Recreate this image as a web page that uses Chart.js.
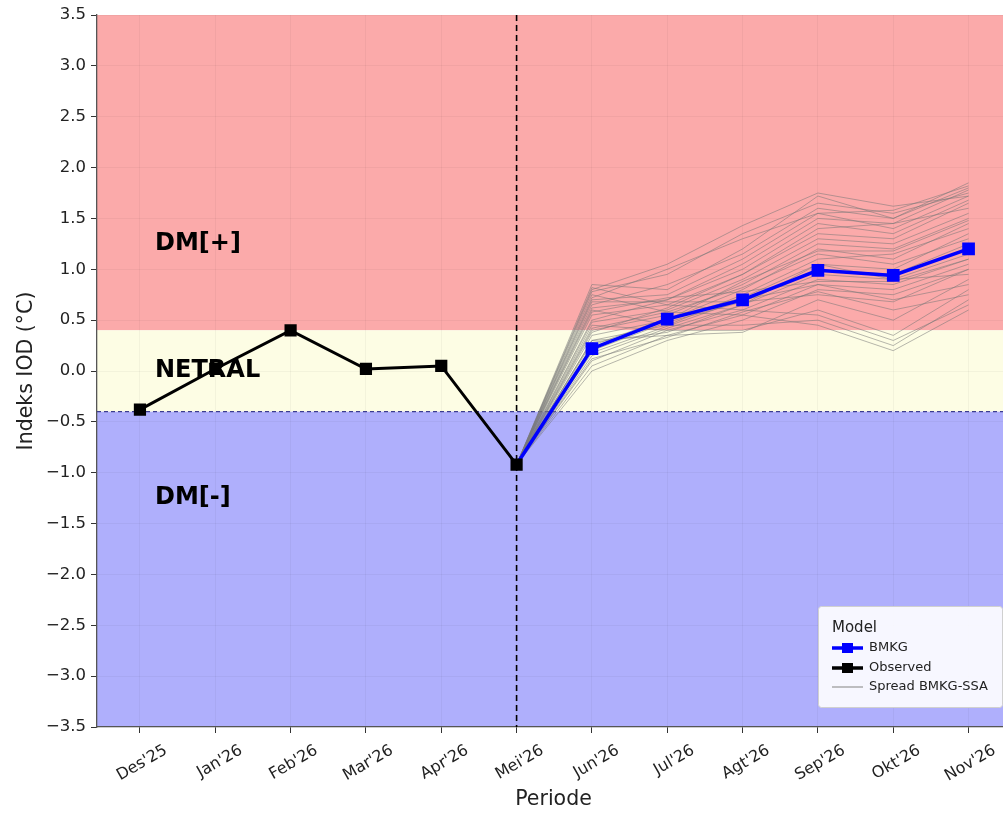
<!DOCTYPE html>
<html>
<head>
<meta charset="utf-8">
<script src="https://cdn.jsdelivr.net/npm/chart.js@4.4.1/dist/chart.umd.min.js"></script>
<style>
  html, body { margin: 0; padding: 0; background: #ffffff; overflow: hidden; width: 1003px; height: 813px; }
  #wrap { position: absolute; left: 0; top: 0; width: 1020px; height: 813px; }
</style>
</head>
<body>
<div id="wrap"><canvas id="c" width="1020" height="813"></canvas></div>
<script>
// ---------- data ----------
const categories = ["Des'25","Jan'26","Feb'26","Mar'26","Apr'26","Mei'26","Jun'26","Jul'26","Agt'26","Sep'26","Okt'26","Nov'26"];
const observedValues = [-0.38, 0.02, 0.40, 0.02, 0.05, -0.92];          // Des'25 .. Mei'26
const bmkgStartIndex = 5;                                                 // starts at Mei'26
const bmkgValues = [-0.92, 0.22, 0.51, 0.70, 0.99, 0.94, 1.20];          // Mei'26 .. Nov'26
const spreadMembers = [                                                   // Mei'26 .. Nov'26
  [-0.92, 0.85, 0.80, 1.20, 1.72, 1.50, 1.80],
  [-0.92, 0.78, 0.95, 1.35, 1.65, 1.55, 1.75],
  [-0.92, 0.80, 1.05, 1.43, 1.75, 1.62, 1.72],
  [-0.92, 0.72, 1.00, 1.30, 1.55, 1.58, 1.82],
  [-0.92, 0.70, 0.75, 1.10, 1.55, 1.40, 1.72],
  [-0.92, 0.62, 0.70, 1.00, 1.45, 1.35, 1.68],
  [-0.92, 0.55, 0.65, 0.95, 1.40, 1.45, 1.60],
  [-0.92, 0.48, 0.60, 0.90, 1.30, 1.25, 1.55],
  [-0.92, 0.40, 0.55, 0.85, 1.25, 1.20, 1.50],
  [-0.92, 0.35, 0.50, 0.80, 1.20, 1.10, 1.45],
  [-0.92, 0.30, 0.45, 0.75, 1.10, 1.15, 1.40],
  [-0.92, 0.25, 0.52, 0.72, 1.05, 1.00, 1.35],
  [-0.92, 0.20, 0.48, 0.68, 1.00, 0.95, 1.25],
  [-0.92, 0.15, 0.42, 0.65, 0.95, 0.90, 1.15],
  [-0.92, 0.10, 0.40, 0.60, 0.90, 0.85, 1.10],
  [-0.92, 0.05, 0.35, 0.55, 0.85, 0.80, 1.05],
  [-0.92, 0.00, 0.30, 0.50, 0.80, 0.75, 1.00],
  [-0.92, 0.82, 0.65, 0.60, 0.55, 0.30, 0.65],
  [-0.92, 0.75, 0.58, 0.55, 0.45, 0.20, 0.60],
  [-0.92, 0.60, 0.45, 0.45, 0.50, 0.25, 0.70],
  [-0.92, 0.45, 0.40, 0.40, 0.60, 0.35, 0.80],
  [-0.92, 0.30, 0.35, 0.38, 0.70, 0.50, 0.90],
  [-0.92, 0.38, 0.62, 0.95, 1.35, 1.30, 1.65],
  [-0.92, 0.50, 0.70, 1.05, 1.50, 1.45, 1.78],
  [-0.92, 0.65, 0.85, 1.15, 1.60, 1.50, 1.85],
  [-0.92, 0.28, 0.38, 0.65, 1.05, 0.90, 0.95],
  [-0.92, 0.18, 0.44, 0.70, 0.85, 0.70, 0.85],
  [-0.92, 0.12, 0.33, 0.58, 0.78, 0.60, 0.75],
  [-0.92, 0.58, 0.72, 0.78, 0.88, 0.88, 1.10],
  [-0.92, 0.42, 0.58, 0.82, 1.15, 1.05, 1.30],
  [-0.92, 0.22, 0.50, 0.88, 1.18, 1.18, 1.48],
  [-0.92, 0.68, 0.68, 0.68, 0.75, 0.68, 1.00]
];
const yTickValues = [-3.5,-3.0,-2.5,-2.0,-1.5,-1.0,-0.5,0.0,0.5,1.0,1.5,2.0,2.5,3.0,3.5];
const zoneBounds = { low: -0.4, high: 0.4, min: -3.5, max: 3.5 };
const zoneLabels = [
  { text: 'DM[+]', x: 0.2, y: 1.25 },
  { text: 'NETRAL', x: 0.2, y: 0.0 },
  { text: 'DM[-]', x: 0.2, y: -1.25 }
];
const forecastStartIndex = 5;
const legendTitle = 'Model';
const seriesNames = { bmkg: 'BMKG', observed: 'Observed', spread: 'Spread BMKG-SSA' };

// ---------- styles ----------
const FONT = "'DejaVu Sans', sans-serif";
const colRed = '#fbaaaa';
const colYellow = '#fdfde4';
const colBlue = '#afaffc';

const toPts = (vals, start) => vals.map((v, i) => ({ x: start + i, y: v }));

const datasets = [];
datasets.push({
  label: seriesNames.observed,
  data: toPts(observedValues, 0),
  borderColor: '#000000', backgroundColor: '#000000',
  borderWidth: 3, pointStyle: 'rect', pointRadius: 6.5, pointHoverRadius: 6.5,
  order: 0
});
datasets.push({
  label: seriesNames.bmkg,
  data: toPts(bmkgValues, bmkgStartIndex),
  borderColor: '#0000ff', backgroundColor: '#0000ff',
  borderWidth: 3.5, pointStyle: 'rect', pointRadius: bmkgValues.map((v, i) => i === 0 ? 0 : 6.5), pointHoverRadius: 6.5,
  order: 1
});
spreadMembers.forEach((m, k) => {
  datasets.push({
    label: seriesNames.spread + ' ' + (k + 1),
    data: toPts(m, forecastStartIndex),
    borderColor: 'rgba(120,120,120,0.6)',
    borderWidth: 0.9, pointRadius: 0, pointHoverRadius: 0,
    order: 2
  });
});

const bgPlugin = {
  id: 'zones',
  beforeDraw(chart) {
    const { ctx, chartArea: a, scales: { y } } = chart;
    const yHi = y.getPixelForValue(zoneBounds.high);
    const yLo = y.getPixelForValue(zoneBounds.low);
    const yTop = y.getPixelForValue(zoneBounds.max);
    const yBot = y.getPixelForValue(zoneBounds.min);
    ctx.save();
    ctx.fillStyle = colRed; ctx.fillRect(a.left, yTop, a.right - a.left, yHi - yTop);
    ctx.fillStyle = colYellow; ctx.fillRect(a.left, yHi, a.right - a.left, yLo - yHi);
    ctx.fillStyle = colBlue; ctx.fillRect(a.left, yLo, a.right - a.left, yBot - yLo);
    ctx.restore();
  },
  beforeDatasetsDraw(chart) {
    const { ctx, chartArea: a, scales: { x, y } } = chart;
    ctx.save();
    ctx.strokeStyle = '#3c3c90'; ctx.lineWidth = 1.2; ctx.setLineDash([4, 3]);
    const yl = y.getPixelForValue(zoneBounds.low);
    ctx.beginPath(); ctx.moveTo(a.left, yl); ctx.lineTo(a.right, yl); ctx.stroke();
    ctx.strokeStyle = '#000000'; ctx.lineWidth = 1.6; ctx.setLineDash([6, 4]);
    const xv = x.getPixelForValue(forecastStartIndex);
    ctx.beginPath(); ctx.moveTo(xv, a.top); ctx.lineTo(xv, a.bottom); ctx.stroke();
    ctx.setLineDash([]);
    ctx.fillStyle = '#000000';
    ctx.font = "bold 24px " + FONT;
    ctx.textAlign = 'left'; ctx.textBaseline = 'middle';
    zoneLabels.forEach(l => ctx.fillText(l.text, x.getPixelForValue(l.x), y.getPixelForValue(l.y)));
    ctx.restore();
  },
  afterDraw(chart) {
    const { ctx } = chart;
    const bx = 818, by = 606, bw = 184, bh = 101;
    ctx.save();
    ctx.fillStyle = 'rgba(255,255,255,0.9)';
    ctx.strokeStyle = '#d0d0d0'; ctx.lineWidth = 1;
    ctx.beginPath();
    if (ctx.roundRect) ctx.roundRect(bx + 0.5, by + 0.5, bw, bh, 3); else ctx.rect(bx + 0.5, by + 0.5, bw, bh);
    ctx.fill(); ctx.stroke();
    ctx.fillStyle = '#222222';
    ctx.textBaseline = 'middle'; ctx.textAlign = 'left';
    ctx.font = "15px " + FONT;
    ctx.fillText(legendTitle, 832, 628);
    const entries = [
      { name: seriesNames.bmkg, color: '#0000ff', w: 3.5, marker: true, y: 648 },
      { name: seriesNames.observed, color: '#000000', w: 3.5, marker: true, y: 668 },
      { name: seriesNames.spread, color: 'rgba(150,150,150,0.8)', w: 1.5, marker: false, y: 687 }
    ];
    entries.forEach(e => {
      ctx.strokeStyle = e.color; ctx.lineWidth = e.w;
      ctx.beginPath(); ctx.moveTo(832, e.y); ctx.lineTo(863, e.y); ctx.stroke();
      if (e.marker) { ctx.fillStyle = e.color; ctx.fillRect(842, e.y - 5, 11, 10); }
      ctx.fillStyle = '#222222';
      ctx.font = "13px " + FONT;
      ctx.fillText(e.name, 869, e.y);
    });
    ctx.restore();
  }
};

const fmt = v => {
  const s = Math.abs(v).toFixed(1);
  return v < -1e-9 ? '\u2212' + s : s;
};

new Chart(document.getElementById('c'), {
  type: 'line',
  data: { datasets },
  options: {
    responsive: false,
    animation: false,
    devicePixelRatio: 1,
    layout: { padding: { top: 15, right: 7, left: 0, bottom: 0 } },
    plugins: { legend: { display: false }, tooltip: { enabled: false } },
    elements: { line: { tension: 0 } },
    scales: {
      x: {
        type: 'linear', min: -0.57, max: 11.55,
        afterBuildTicks: s => { s.ticks = categories.map((c, i) => ({ value: i })); },
        afterFit: s => { s.height = 86; },
        ticks: {
          autoSkip: false, minRotation: 30, maxRotation: 30,
          callback: v => categories[v],
          font: { family: FONT, size: 16 }, color: '#222222',
          labelOffset: 26, padding: 8
        },
        grid: { color: 'rgba(0,0,0,0.04)', tickColor: '#333333', tickLength: 6, lineWidth: 1 },
        border: { color: '#555555', width: 1.3 },
        title: { display: true, text: 'Periode', font: { family: FONT, size: 20.5 }, color: '#222222', padding: { top: 4, bottom: 1 } }
      },
      y: {
        min: -3.5, max: 3.5,
        afterBuildTicks: s => { s.ticks = yTickValues.map(v => ({ value: v })); },
        afterFit: s => { s.width = 97; },
        ticks: {
          callback: v => fmt(v),
          font: { family: FONT, size: 16.5 }, color: '#222222', padding: 5
        },
        grid: { color: 'rgba(0,0,0,0.04)', tickColor: '#333333', tickLength: 6, lineWidth: 1 },
        border: { color: '#555555', width: 1.3 },
        title: { display: true, text: 'Indeks IOD (°C)', font: { family: FONT, size: 20.5 }, color: '#222222', padding: { top: 14, bottom: 0 } }
      }
    }
  },
  plugins: [bgPlugin]
});
</script>
</body>
</html>
